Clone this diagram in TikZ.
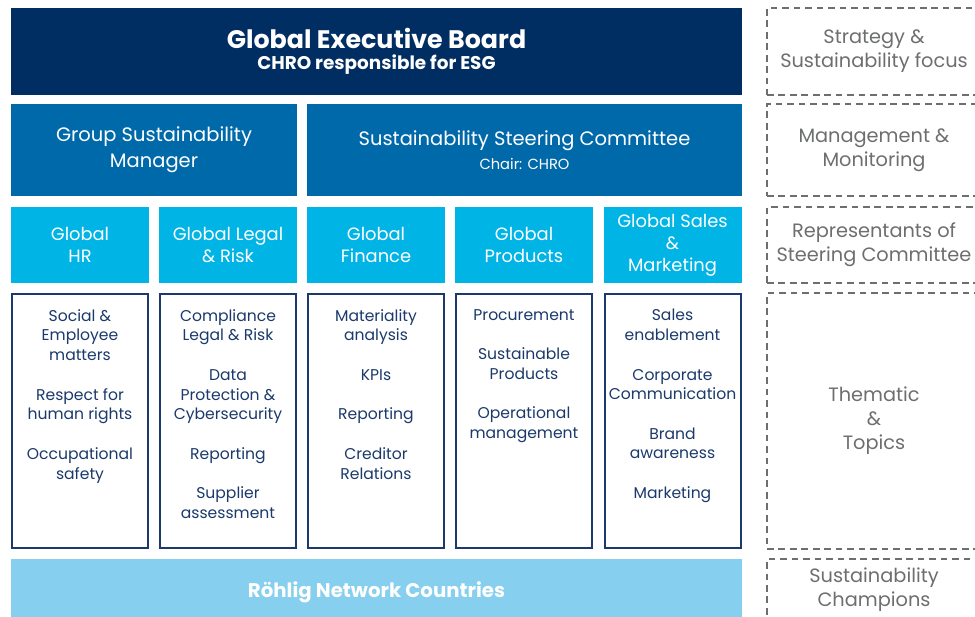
\documentclass[tikz,border=0pt]{standalone}
\usepackage{fontspec}
\setmainfont{Poppins}
\definecolor{boardblue}{HTML}{002D62}
\definecolor{groupblue}{HTML}{0069AA}
\definecolor{repblue}{HTML}{00B4E6}
\definecolor{linkblue}{HTML}{1B3A6B}
\definecolor{countryblue}{HTML}{87CFEE}
\definecolor{levelgray}{HTML}{6D6E70}

\begin{document}
\begin{tikzpicture}[x=0.75pt,y=-0.75pt,
  board/.style={fill=boardblue, text=white, inner sep=0pt, align=center,
    minimum width=548.25pt, minimum height=65.25pt},
  group/.style={fill=groupblue, text=white, inner sep=0pt, align=center,
    minimum height=69pt, font=\fontsize{14.6}{19.5}\selectfont},
  rep/.style={fill=repblue, text=white, inner sep=0pt, align=center,
    minimum width=103.5pt, minimum height=57pt, font=\fontsize{13.4}{16.5}\selectfont},
  topicbox/.style={draw=linkblue, line width=1.5pt, fill=white,
    minimum width=102pt, minimum height=190.5pt},
  topics/.style={anchor=north, inner sep=0pt, align=center, text=linkblue,
    font=\fontsize{11.7}{14.8}\selectfont},
  level/.style={draw=levelgray, line width=1.1pt, dash pattern=on 5pt off 3.6pt,
    minimum width=160.5pt, inner sep=0pt, align=center, text=levelgray,
    font=\fontsize{14.5}{18}\selectfont}]
\useasboundingbox (0,0) rectangle (975,617);

% left part: the organisation
\node[board] (board) at (376.5,51.5)
  {{\fontsize{19}{20}\selectfont\bfseries Global Executive Board}\\[4pt]
   {\fontsize{13.8}{14}\selectfont\bfseries CHRO responsible for ESG}};

\node[group, minimum width=214.5pt] (manager) at (154,150)
  {Group Sustainability\\Manager};
\node[group, minimum width=326.25pt] (steering) at (524.5,150)
  {Sustainability Steering Committee\\[-1pt]{\fontsize{11}{12}\selectfont Chair: CHRO}};

\node[rep] (hr) at (80,245) {Global\\HR};
\node[rep] (legal) at (228,245) {Global Legal\\\& Risk};
\node[rep] (finance) at (376,245) {Global\\Finance};
\node[rep] (products) at (524,245) {Global\\Products};
\node[rep] (sales) at (672.5,245) {Global Sales\\\&\\Marketing};

\node[topicbox] (hrbox) at (80,421) {};
\node[topicbox] (legalbox) at (228,421) {};
\node[topicbox] (financebox) at (376,421) {};
\node[topicbox] (productsbox) at (524,421) {};
\node[topicbox] (salesbox) at (672.5,421) {};

\node[topics] (hrtext) at (80,309)
  {Social \&\\Employee\\matters\\[14.8pt]Respect for\\human rights\\[14.8pt]Occupational\\safety};
\node[topics] (legaltext) at (228,309)
  {Compliance\\Legal \& Risk\\[14.8pt]Data\\Protection \&\\Cybersecurity\\[14.8pt]Reporting\\[14.8pt]Supplier\\assessment};
\node[topics] (financetext) at (376,309)
  {Materiality\\analysis\\[14.8pt]KPIs\\[14.8pt]Reporting\\[14.8pt]Creditor\\Relations};
\node[topics] (productstext) at (524,309)
  {Procurement\\[14.8pt]Sustainable\\Products\\[14.8pt]Operational\\management};
\node[topics] (salestext) at (672.5,309)
  {Sales\\enablement\\[14.8pt]Corporate\\Communication\\[14.8pt]Brand\\awareness\\[14.8pt]Marketing};

\node[fill=countryblue, text=white, minimum width=548.25pt, minimum height=49.5pt,
  inner sep=0pt, font=\fontsize{14.8}{16}\selectfont\bfseries] (network) at (376.5,592)
  {Röhlig Network Countries};

% right part: the levels
\node[level, minimum height=65.25pt] (strategy) at (874,51.5)
  {Strategy \&\\Sustainability focus};
\node[level, minimum height=69pt] (monitoring) at (874,150)
  {Management \&\\Monitoring};
\node[level, minimum height=57pt] (representants) at (874,245)
  {Representants of\\Steering Committee};
\node[level, minimum height=192pt] (thematic) at (874,421)
  {Thematic\\\&\\Topics};
\node[level, minimum height=46.5pt] (champions) at (874,590)
  {Sustainability\\Champions};
\end{tikzpicture}
\end{document}
